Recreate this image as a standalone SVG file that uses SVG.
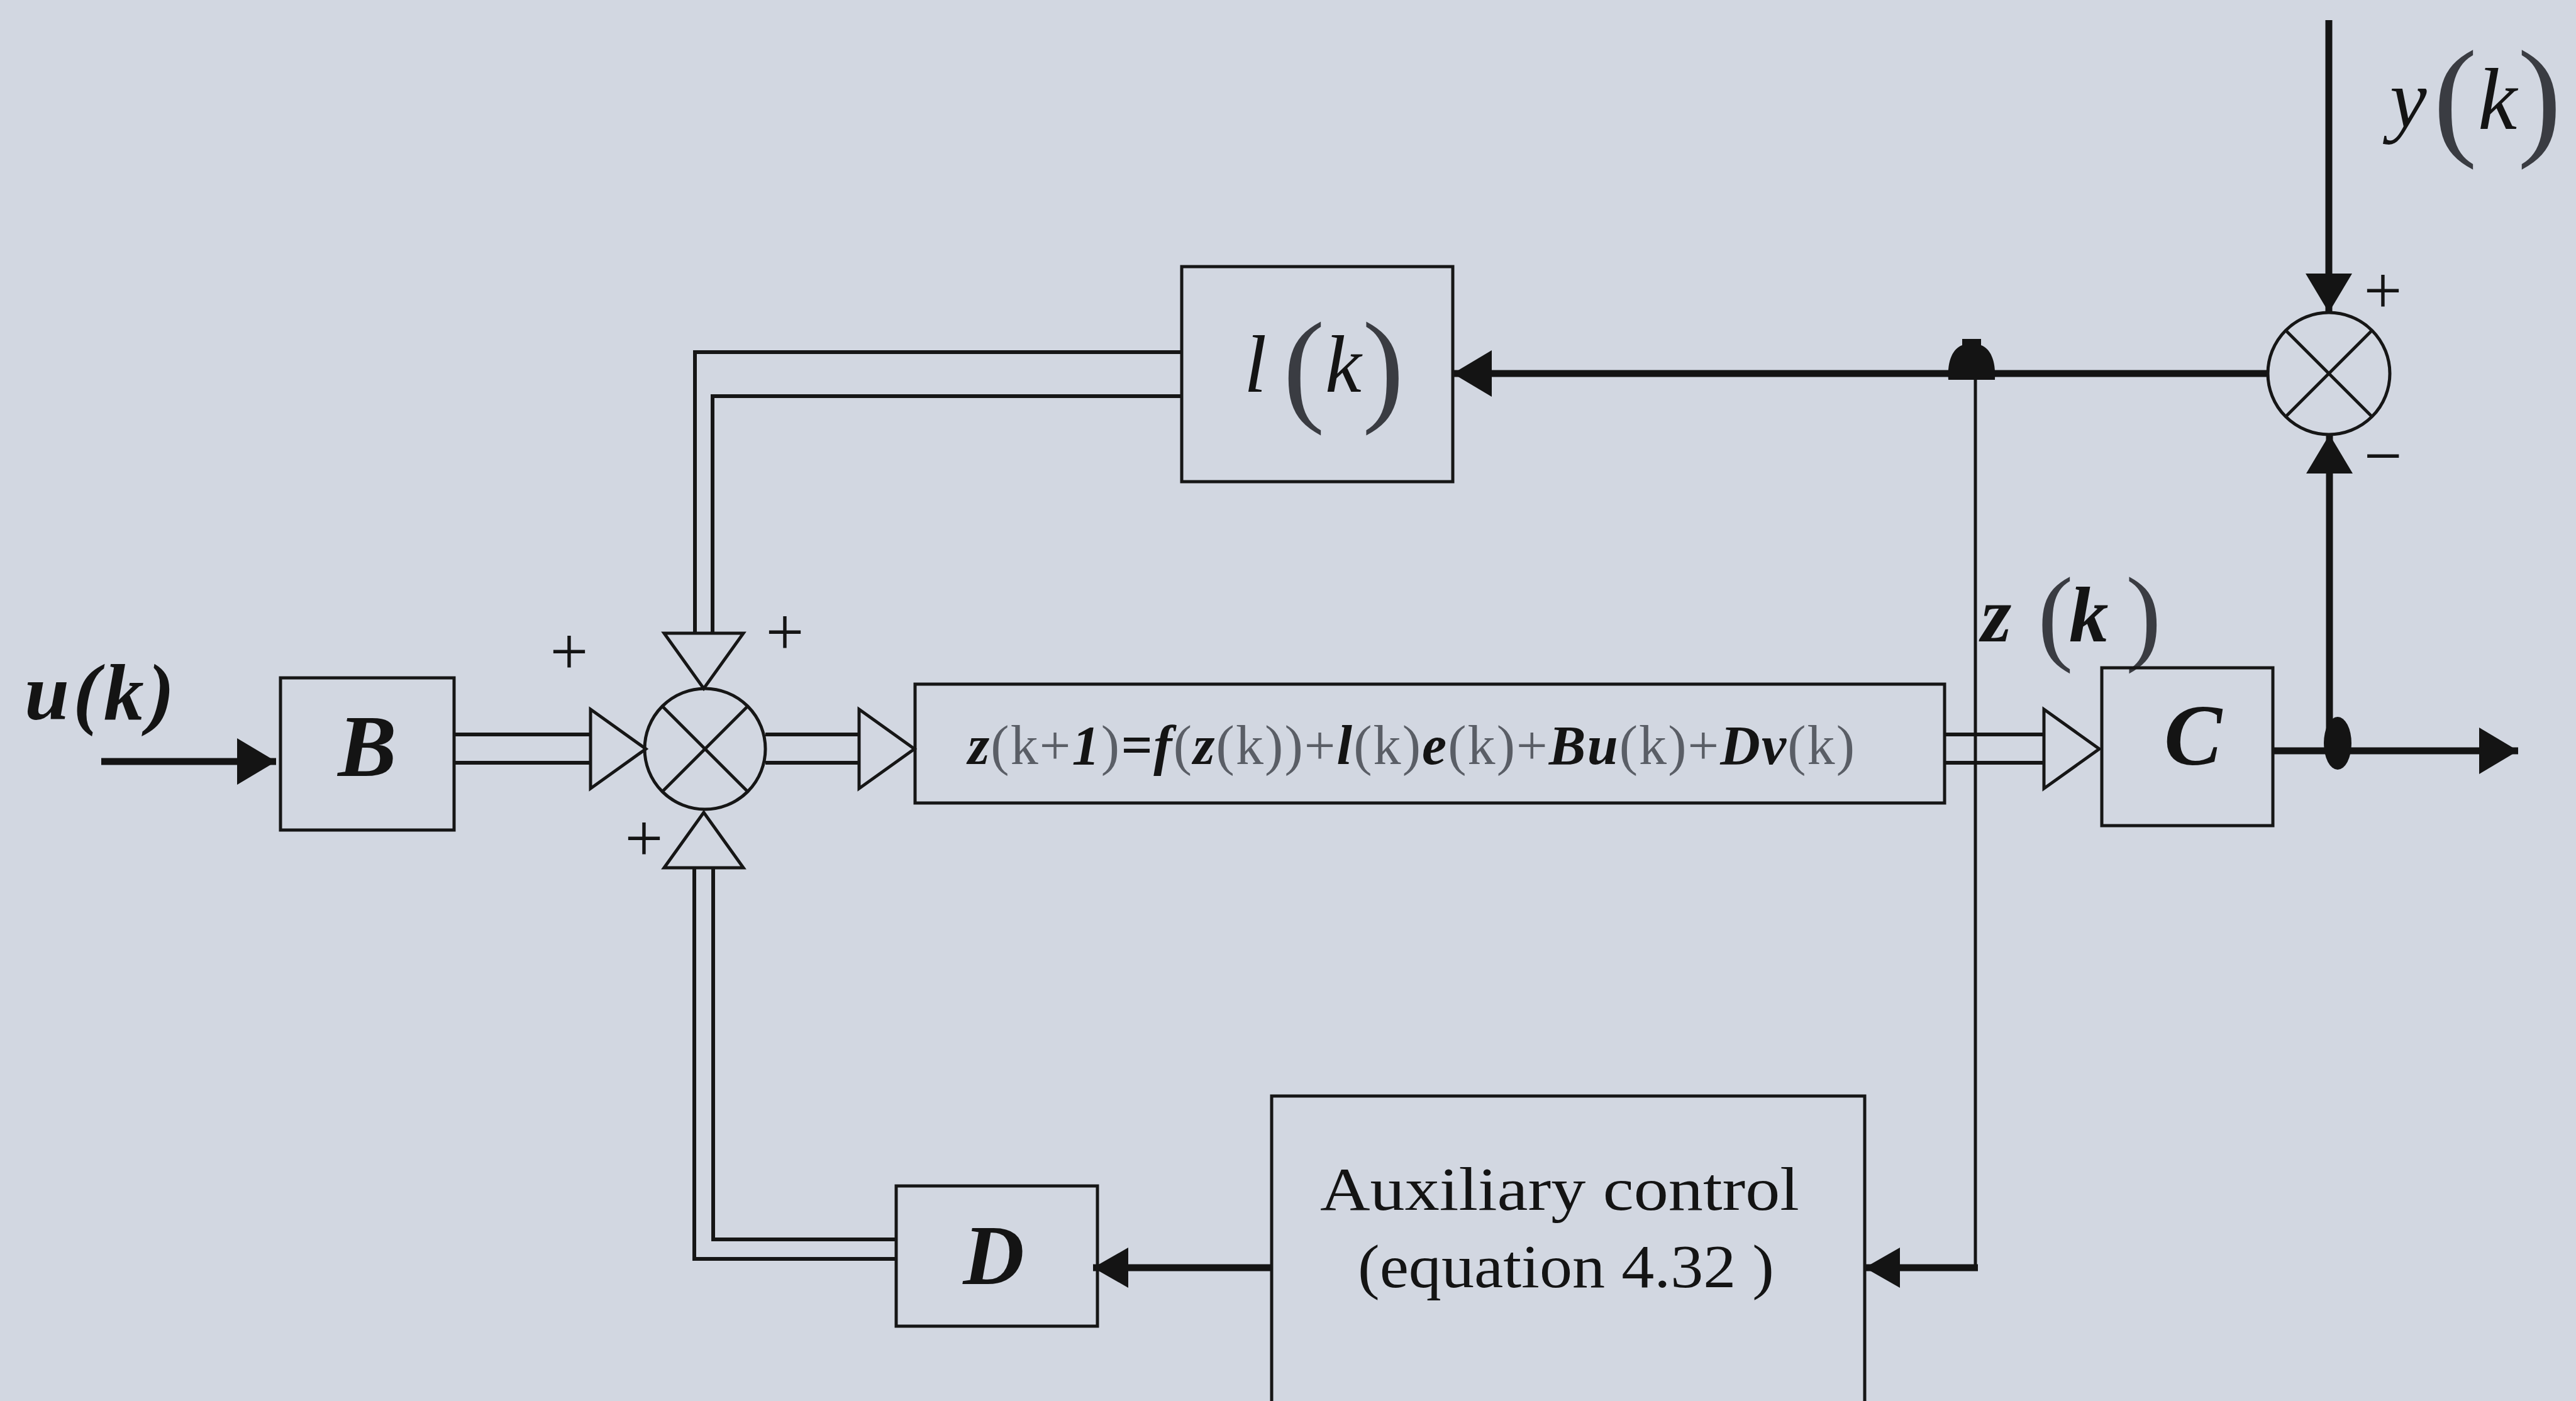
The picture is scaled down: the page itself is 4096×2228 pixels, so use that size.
<svg xmlns="http://www.w3.org/2000/svg" width="4096" height="2228" viewBox="0 0 4096 2228">
<style>
.box{fill:none;stroke:#161616;stroke-width:5}
.dl{fill:none;stroke:#161616;stroke-width:6}
.sig{fill:none;stroke:#141414;stroke-width:11}
.thin{fill:none;stroke:#141414;stroke-width:5}
.sum{fill:none;stroke:#161616;stroke-width:5}
.tri{fill:none;stroke:#161616;stroke-width:5;stroke-linejoin:miter}
.lbl{font-family:"Liberation Serif","Times New Roman",serif;fill:#141414}
.bi{font-style:italic;font-weight:bold}
.it{font-style:italic}
.fa{fill:#5a5e66;font-weight:normal;font-style:normal}
.par{fill:#3a3c42;font-weight:normal;font-style:normal}
.sign{font-family:"Liberation Serif","Times New Roman",serif;fill:#141414;font-size:108px;text-anchor:middle}
</style>
<defs>
<marker id="ah" markerUnits="userSpaceOnUse" markerWidth="64" markerHeight="76" refX="62" refY="37" orient="auto">
<path d="M0,0 L62,37 L0,74 Z" fill="#141414"/>
</marker>
<marker id="ahs" markerUnits="userSpaceOnUse" markerWidth="58" markerHeight="66" refX="56" refY="32" orient="auto">
<path d="M0,0 L56,32 L0,64 Z" fill="#141414"/>
</marker>
<polygon id="tri" points="0,-63 88,0 0,63"/>
</defs>
<rect x="0" y="0" width="4096" height="2228" fill="#d2d7e1"/>

<g id="connectors">
<line class="sig" x1="161" y1="1211" x2="439" y2="1211" marker-end="url(#ah)"/>
<line class="dl" x1="722" y1="1168" x2="939" y2="1168"/>
<line class="dl" x1="722" y1="1213" x2="939" y2="1213"/>
<use href="#tri" class="tri" transform="translate(939,1191)"/>
<line class="dl" x1="1217" y1="1168" x2="1366" y2="1168"/>
<line class="dl" x1="1217" y1="1213" x2="1366" y2="1213"/>
<use href="#tri" class="tri" transform="translate(1366,1191)"/>
<line class="dl" x1="3092" y1="1168" x2="3250" y2="1168"/>
<line class="dl" x1="3092" y1="1213" x2="3250" y2="1213"/>
<use href="#tri" class="tri" transform="translate(3250,1191)"/>
<polyline class="dl" points="1105,1007 1105,560 1879,560"/>
<polyline class="dl" points="1133,1007 1133,630 1879,630"/>
<use href="#tri" class="tri" transform="translate(1119,1007) rotate(90)"/>
<polyline class="dl" points="1104,1380 1104,2002 1425,2002"/>
<polyline class="dl" points="1134,1380 1134,1971 1425,1971"/>
<use href="#tri" class="tri" transform="translate(1119,1380) rotate(-90)"/>
<line class="sig" x1="3703" y1="32" x2="3703" y2="497" marker-end="url(#ah)"/>
<line class="sig" x1="3606" y1="594" x2="2310" y2="594" marker-end="url(#ah)"/>
<line class="sig" x1="3614" y1="1194" x2="4004" y2="1194" marker-end="url(#ah)"/>
<line class="sig" x1="3704" y1="1194" x2="3704" y2="691" marker-end="url(#ah)"/>
<line class="thin" x1="3141" y1="594" x2="3141" y2="2018"/>
<line class="sig" x1="3145" y1="2016" x2="2965" y2="2016" marker-end="url(#ahs)"/>
<line class="sig" x1="2022" y1="2016" x2="1738" y2="2016" marker-end="url(#ahs)"/>
<path d="M3098,604 C3096,572 3106,554 3120,549 L3120,539 L3150,539 L3150,549 C3164,554 3174,572 3172,604 Z" fill="#141414"/>
<ellipse cx="3717" cy="1182" rx="22" ry="42" fill="#141414"/>
</g>

<g id="u-label">
<text class="lbl" x="39" y="1144" font-size="128" letter-spacing="6"><tspan class="bi">u</tspan><tspan class="bi">(</tspan><tspan class="bi">k</tspan><tspan class="bi">)</tspan></text>
</g>

<g id="node-B">
<rect class="box" x="446" y="1078" width="276" height="242"/>
<text class="lbl bi" x="584" y="1234" font-size="140" text-anchor="middle">B</text>
</g>

<g id="summer-1">
<circle class="sum" cx="1121" cy="1191" r="96"/>
<line class="sum" x1="1053" y1="1123" x2="1189" y2="1259"/>
<line class="sum" x1="1189" y1="1123" x2="1053" y2="1259"/>
<text class="sign" x="905" y="1072">+</text>
<text class="sign" x="1248" y="1041">+</text>
<text class="sign" x="1024" y="1369">+</text>
</g>

<g id="node-equation">
<rect class="box" x="1455" y="1088" width="1637" height="189"/>
<text class="lbl bi" x="1539" y="1215" font-size="88" textLength="1410" lengthAdjust="spacing">z<tspan class="fa">(k+</tspan>1<tspan class="fa">)</tspan>=f<tspan class="fa">(</tspan>z<tspan class="fa">(k))+</tspan>l<tspan class="fa">(k)</tspan>e<tspan class="fa">(k)+</tspan>Bu<tspan class="fa">(k)+</tspan>Dv<tspan class="fa">(k)</tspan></text>
</g>

<g id="node-l">
<rect class="box" x="1879" y="424" width="431" height="342"/>
<text class="lbl"><tspan class="it" x="1978" y="623" font-size="130">l</tspan><tspan class="par" x="2040" y="650" font-size="200">(</tspan><tspan class="it" x="2107" y="623" font-size="130">k</tspan><tspan class="par" x="2166" y="650" font-size="200">)</tspan></text>
</g>

<g id="summer-2">
<circle class="sum" cx="3703" cy="594" r="97"/>
<line class="sum" x1="3634" y1="525" x2="3772" y2="663"/>
<line class="sum" x1="3772" y1="525" x2="3634" y2="663"/>
<text class="sign" x="3789" y="498">+</text>
<text class="sign" x="3789" y="761">−</text>
</g>

<g id="y-label">
<text class="lbl"><tspan class="it" x="3800" y="202" font-size="132">y</tspan><tspan class="par" x="3869" y="225" font-size="210">(</tspan><tspan class="it" x="3940" y="205" font-size="140">k</tspan><tspan class="par" x="4003" y="225" font-size="210">)</tspan></text>
</g>

<g id="z-label">
<text class="lbl"><tspan class="bi" x="3150" y="1020" font-size="124">z</tspan><tspan class="par" x="3240" y="1035" font-size="170" fill="#6a6e76">(</tspan><tspan class="bi" x="3290" y="1020" font-size="125">k</tspan><tspan class="par" x="3380" y="1035" font-size="170" fill="#6a6e76">)</tspan></text>
</g>

<g id="node-C">
<rect class="box" x="3342" y="1062" width="272" height="251"/>
<text class="lbl it" x="3487" y="1216" font-size="138" text-anchor="middle" font-weight="bold">C</text>
</g>

<g id="node-D">
<rect class="box" x="1425" y="1886" width="320" height="223"/>
<text class="lbl bi" x="1580" y="2042" font-size="135" text-anchor="middle">D</text>
</g>

<g id="node-aux">
<rect class="box" x="2022" y="1743" width="943" height="520"/>
<text class="lbl" x="2099" y="1924" font-size="98" textLength="762" lengthAdjust="spacingAndGlyphs">Auxiliary control</text>
<text class="lbl" x="2159" y="2047" font-size="98" textLength="662" lengthAdjust="spacingAndGlyphs">(equation 4.32 )</text>
</g>
</svg>
